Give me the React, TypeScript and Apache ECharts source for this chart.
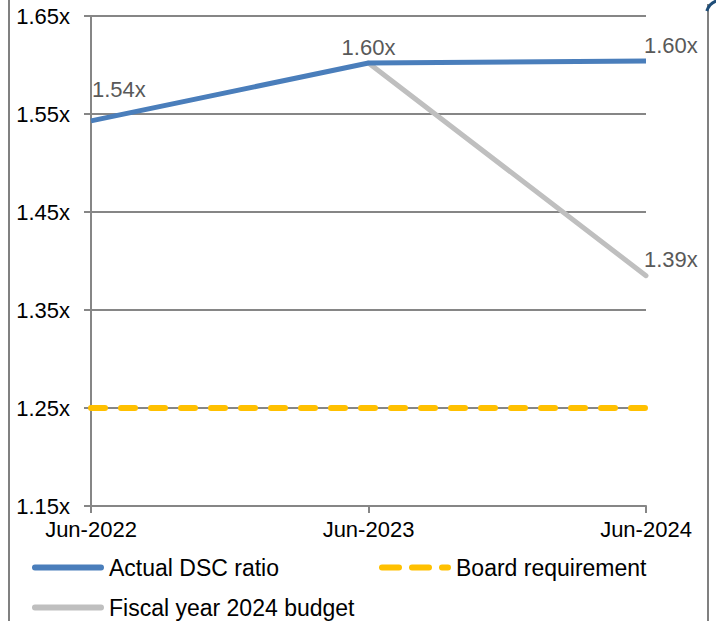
import React, { useEffect, useRef } from "react";
import * as echarts from "echarts";

const categories = ["Jun-2022", "Jun-2023", "Jun-2024"];
const actualDSC = [1.543, 1.602, 1.604];
const boardRequirement = [1.25, 1.25, 1.25];
const budget2024: (number | string)[] = ["-", 1.602, 1.385];
const actualLabels = ["1.54x", "1.60x", "1.60x"];
const budgetLabels = ["", "", "1.39x"];
const yMin = 1.15;
const yMax = 1.65;
const yStep = 0.1;

const FONT = "Arial, 'Liberation Sans', sans-serif";

function pill(a: number, b: number, h: number) {
  const r = h / 2;
  return `M${a + r},0 H${b - r} A${r},${r} 0 0 1 ${b - r},${h} H${a + r} A${r},${r} 0 0 1 ${a + r},0 Z`;
}
const solidIcon = "path://" + pill(0, 73, 6);
const dashIcon = "path://" + pill(0, 23, 6) + " " + pill(30, 53, 6) + " " + pill(60, 72, 6);

export default function App() {
  const ref = useRef<HTMLDivElement>(null);
  useEffect(() => {
    if (!ref.current) return;
    const chart = echarts.init(ref.current, null, { renderer: "svg" });
    const labelOffsets: any[] = [
      { position: "right", offset: [-4, -31] },
      { position: "top", offset: [0, 0] },
      { position: "right", offset: [-7, -16] },
    ];
    const legendText = { fontSize: 23, lineHeight: 22, fontFamily: FONT, color: "#000" };
    chart.setOption({
      animation: false,
      backgroundColor: "#ffffff",
      grid: { left: 91, right: 70, top: 16, bottom: 115 },
      xAxis: {
        type: "category",
        data: categories,
        boundaryGap: false,
        axisLine: { lineStyle: { color: "#868686", width: 2 } },
        axisTick: { show: true, length: 7, lineStyle: { color: "#868686", width: 2 } },
        axisLabel: { color: "#000", fontSize: 22, fontFamily: FONT, margin: 12 },
      },
      yAxis: {
        type: "value",
        min: yMin,
        max: yMax,
        interval: yStep,
        axisLine: { show: true, lineStyle: { color: "#868686", width: 2 } },
        axisTick: { show: true, length: 7, lineStyle: { color: "#868686", width: 2 } },
        splitLine: { show: true, lineStyle: { color: "#868686", width: 2 } },
        axisLabel: {
          color: "#000",
          fontSize: 22,
          fontFamily: FONT,
          margin: 21,
          formatter: (v: number) => v.toFixed(2) + "x",
        },
      },
      legend: [
        {
          data: [{ name: "Actual DSC ratio", icon: solidIcon }],
          left: 27,
          top: 551,
          itemWidth: 72,
          itemHeight: 6,
          textStyle: legendText,
        },
        {
          data: [{ name: "Board requirement", icon: dashIcon }],
          left: 374,
          top: 551,
          itemWidth: 72,
          itemHeight: 6,
          textStyle: legendText,
        },
        {
          data: [{ name: "Fiscal year 2024 budget", icon: solidIcon }],
          left: 27,
          top: 591,
          itemWidth: 72,
          itemHeight: 6,
          padding: [5, 5, 0, 5],
          textStyle: legendText,
        },
      ],
      series: [
        {
          name: "Board requirement",
          type: "line",
          data: boardRequirement,
          symbol: "none",
          lineStyle: { color: "#FFC000", width: 6, type: [14, 16], cap: "round" },
          itemStyle: { color: "#FFC000" },
          z: 3,
        },
        {
          name: "Fiscal year 2024 budget",
          type: "line",
          data: budget2024.map((v, i) =>
            v === "-"
              ? "-"
              : {
                  value: v,
                  label: {
                    show: budgetLabels[i] !== "",
                    formatter: budgetLabels[i],
                    ...labelOffsets[i],
                  },
                }
          ),
          symbol: "circle",
          symbolSize: 0,
          showSymbol: true,
          lineStyle: { color: "#BFBFBF", width: 5, cap: "round" },
          itemStyle: { color: "#BFBFBF" },
          label: { color: "#595959", fontSize: 22, fontFamily: FONT },
          z: 4,
        },
        {
          name: "Actual DSC ratio",
          type: "line",
          data: actualDSC.map((v, i) => ({
            value: v,
            label: { show: true, formatter: actualLabels[i], ...labelOffsets[i] },
          })),
          symbol: "circle",
          symbolSize: 0,
          showSymbol: true,
          lineStyle: { color: "#4A7EBB", width: 5 },
          itemStyle: { color: "#4A7EBB" },
          label: { color: "#595959", fontSize: 22, fontFamily: FONT },
          z: 5,
        },
      ],
      graphic: [
        { type: "line", shape: { x1: 9, y1: 0, x2: 9, y2: 621 }, style: { stroke: "#808080", lineWidth: 2 } },
        { type: "line", shape: { x1: 708, y1: 4, x2: 708, y2: 621 }, style: { stroke: "#808080", lineWidth: 2 } },
        {
          type: "arc",
          shape: { cx: 722, cy: 16, r: 16, startAngle: Math.PI * 1.1, endAngle: Math.PI * 1.45 },
          style: { stroke: "#1F4E79", lineWidth: 3, fill: "none" },
        },
      ],
    });
    return () => chart.dispose();
  }, []);
  return (
    <div
      ref={ref}
      style={{ position: "fixed", left: 0, top: 0, width: 716, height: 621, background: "#fff" }}
    />
  );
}
